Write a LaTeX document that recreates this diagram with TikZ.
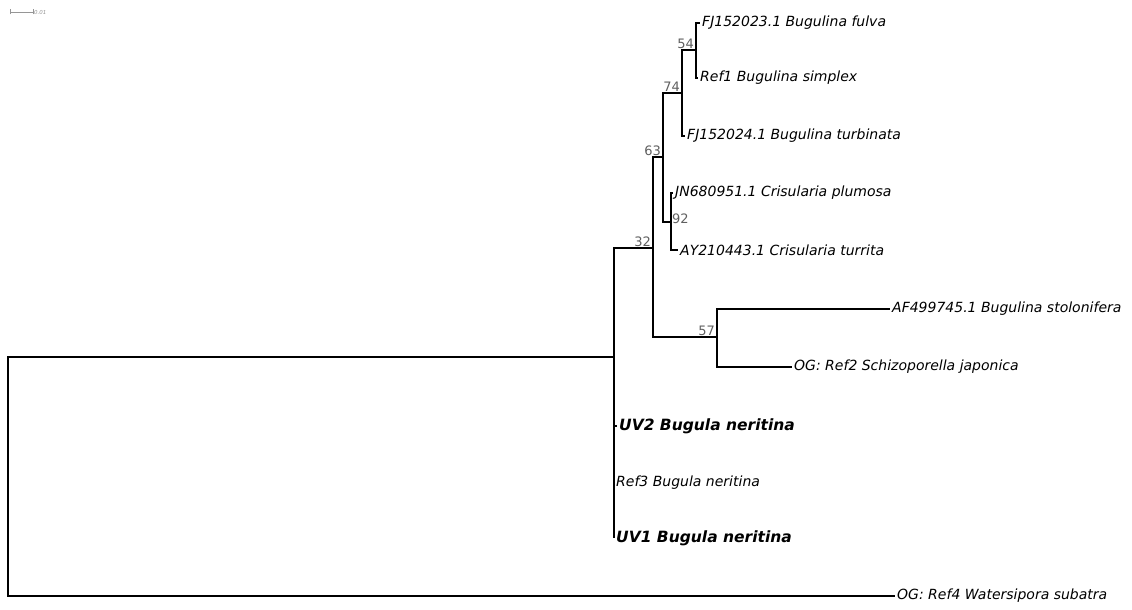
\documentclass[tikz,border=0pt]{standalone}
\usepackage{fontspec}
\setmainfont{DejaVu Sans}
\usepackage{xcolor}
\definecolor{bootgray}{RGB}{95,95,95}
\definecolor{scalegray}{RGB}{150,150,150}
\usepackage{tikz}
\usetikzlibrary{positioning}

\begin{document}
\begin{tikzpicture}[x=1pt, y=-1pt,
    branch/.style={line width=1.4pt, black},
    leaf/.style={anchor=west, inner sep=2pt, font=\fontsize{14}{16}\selectfont\itshape},
    strain/.style={anchor=west, inner sep=2pt, font=\fontsize{15.5}{17}\selectfont\bfseries\itshape},
    boot/.style={anchor=south east, inner sep=1pt, text=bootgray, font=\fontsize{13}{14}\selectfont},
  ]
    \useasboundingbox (0,0) rectangle (1132,610);

    % scale bar
    \coordinate (sb1) at (10,12);
    \coordinate (sb2) at (33,12);
    \draw[scalegray, line width=0.6pt] (sb1) -- (sb2);
    \draw[scalegray, line width=0.6pt] ([yshift=-2.5]sb1) -- ([yshift=2.5]sb1);
    \draw[scalegray, line width=0.6pt] ([yshift=-2.5]sb2) -- ([yshift=2.5]sb2);
    \node[anchor=west, inner sep=1pt, text=scalegray, font=\fontsize{5.5}{6}\selectfont\itshape] (sblab) at (sb2) {0.01};

    % internal nodes
    \coordinate (root) at (8,476.5);
    \coordinate (nA)   at (614,357);
    \coordinate (n32)  at (653,248);
    \coordinate (n63)  at (663,157);
    \coordinate (n74)  at (682,93);
    \coordinate (n54)  at (696,50);
    \coordinate (n92)  at (671,222);
    \coordinate (n57)  at (717,337);

    % tips
    \coordinate (t1)  at (700,23);
    \coordinate (t2)  at (698,78);
    \coordinate (t3)  at (685,136);
    \coordinate (t4)  at (673,193);
    \coordinate (t5)  at (678,250);
    \coordinate (t6)  at (890,309);
    \coordinate (t7)  at (792,367);
    \coordinate (t8)  at (617,426);
    \coordinate (t9)  at (614,483);
    \coordinate (t10) at (614,538);
    \coordinate (t11) at (895,596);

    % branches
    \draw[branch] (root) |- (nA);
    \draw[branch] (root) |- (t11);
    \draw[branch] (nA) |- (n32);
    \draw[branch] (nA) |- (t8);
    \draw[branch] (nA) |- (t9);
    \draw[branch] (nA) |- (t10);
    \draw[branch] (n32) |- (n63);
    \draw[branch] (n32) |- (n57);
    \draw[branch] (n63) |- (n74);
    \draw[branch] (n63) |- (n92);
    \draw[branch] (n74) |- (n54);
    \draw[branch] (n74) |- (t3);
    \draw[branch] (n54) |- (t1);
    \draw[branch] (n54) |- (t2);
    \draw[branch] (n92) |- (t4);
    \draw[branch] (n92) |- (t5);
    \draw[branch] (n57) |- (t6);
    \draw[branch] (n57) |- (t7);

    % taxon labels
    \node[leaf] (l1) at (t1) {FJ152023.1 Bugulina fulva};
    \node[leaf] (l2) at (t2) {Ref1 Bugulina simplex};
    \node[leaf] (l3) at (t3) {FJ152024.1 Bugulina turbinata};
    \node[leaf] (l4) at (t4) {JN680951.1 Crisularia plumosa};
    \node[leaf] (l5) at (t5) {AY210443.1 Crisularia turrita};
    \node[leaf] (l6) at (t6) {AF499745.1 Bugulina stolonifera};
    \node[leaf] (l7) at (t7) {OG: Ref2 Schizoporella japonica};
    \node[strain] (l8) at (t8) {UV2 Bugula neritina};
    \node[leaf] (l9) at (t9) {Ref3 Bugula neritina};
    \node[strain] (l10) at (t10) {UV1 Bugula neritina};
    \node[leaf] (l11) at (t11) {OG: Ref4 Watersipora subatra};

    % bootstrap values
    \node[boot] (b54) at ([xshift=-1]n54) {54};
    \node[boot] (b74) at ([xshift=-1]n74) {74};
    \node[boot] (b63) at ([xshift=-1]n63) {63};
    \node[boot] (b32) at ([xshift=-1]n32) {32};
    \node[boot] (b57) at ([xshift=-1]n57) {57};
    \node[boot, anchor=west] (b92) at ([yshift=3]n92) {92};
  \end{tikzpicture}
\end{document}
